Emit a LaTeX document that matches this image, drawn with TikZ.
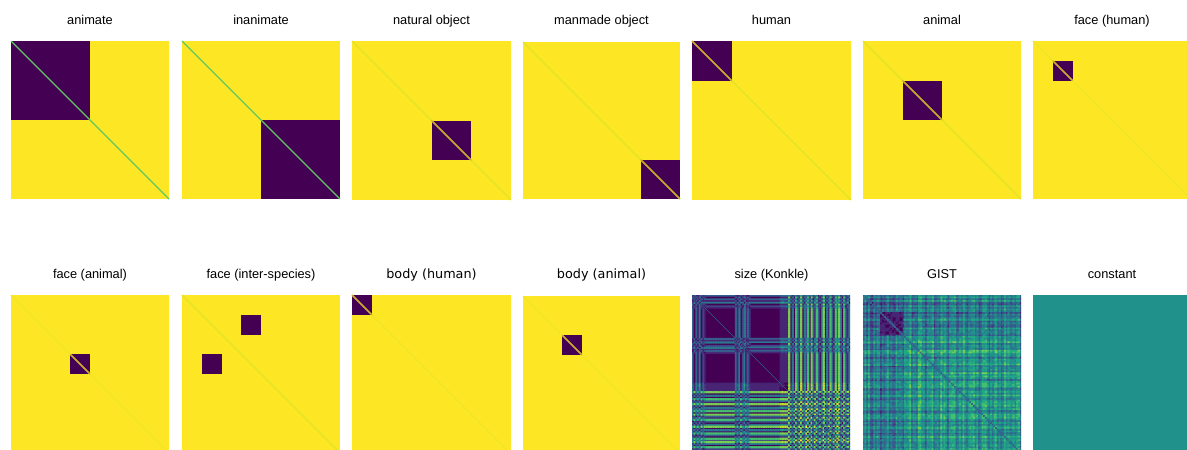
\documentclass[tikz,border=0pt]{standalone}
\usepackage{fontspec}
\setmainfont{Liberation Sans}
\newfontfamily\dvs{DejaVu Sans}
\definecolor{vir0}{HTML}{440154}
\definecolor{vir1}{HTML}{482475}
\definecolor{vir2}{HTML}{414487}
\definecolor{vir3}{HTML}{355F8D}
\definecolor{vir4}{HTML}{2A788E}
\definecolor{vir5}{HTML}{21918C}
\definecolor{vir6}{HTML}{22A884}
\definecolor{vir7}{HTML}{44BF70}
\definecolor{vir8}{HTML}{7AD151}
\definecolor{vir9}{HTML}{BDDF26}
\definecolor{vir10}{HTML}{FDE725}
\definecolor{vgreen}{HTML}{5EC962}
\tikzset{
  ttl/.style={anchor=base, font=\fontsize{12.8}{15}\selectfont},
  ttlb/.style={anchor=base, font=\dvs\fontsize{12.8}{15}\selectfont},
  diagG/.style={line width=1.3pt, draw=vgreen},
  diagF/.style={line width=1.1pt, draw=vir10!55!vir9},
  diagH/.style={line width=1.1pt, draw=vir10!80!vir9},
  diagK/.style={line width=1.1pt, draw=vir10!72!vir0},
}
\newcommand\rdm[4]{%
  \begin{scope}[shift={(#1,#2)}, x=#3pt, y=-#3pt]
    \fill[vir10] (0,0) rectangle (1,1);
    #4
  \end{scope}}
\newcommand\blk[4]{\fill[vir0] (#1,#2) rectangle (#3,#4);}
\def\slist{{0.45,0.2,0.5,0.3,0.6,0.2,0.35,0.25,%
0.2,0.2,0.2,0.2,0.2,0.2,0.2,0.2,0.2,0.2,0.2,0.2,0.2,0.2,0.2,0.2,0.2,%
0.5,0.3,0.55,0.2,0.35,0.6,0.3,0.45,0.25,%
0.2,0.2,0.2,0.2,0.2,0.2,0.2,0.2,0.2,0.2,0.2,0.2,0.2,0.2,0.2,0.2,0.2,%
0.1,0.05,0.1,0.08,0.1,%
0.95,0.2,0.55,0.2,0.9,0.5,0.15,1.0,0.2,0.6,0.0,0.85,0.2,0.95,0.5,0.05,0.9,0.45,0.2,0.55,1.0,0.2,0.6,0.1,0.9,0.5,0.2,0.85,0.0,0.95,0.55,0.2,0.9,0.35,0.05,0.6}}
% colour-bucketed path accumulation (basic layer, compact 're' output)
\newcommand\resetbuckets{\foreach \q in {0,...,10}{\expandafter\gdef\csname pk\q\endcsname{}}}
\newcommand\addcell[3]{% colour index, col, row
  \expandafter\let\expandafter\tmpb\csname pk#1\endcsname
  \expandafter\xdef\csname pk#1\endcsname{\unexpanded\expandafter{\tmpb}\noexpand\pgfpathrectangle{\noexpand\pgfpointxy{#2}{#3}}{\noexpand\pgfpointxy{1.3}{1.3}}}}
\newcommand\flushbuckets{\foreach \q in {0,...,10}{%
  \expandafter\ifx\csname pk\q\endcsname\empty\else
  \begin{pgfscope}\pgfsetfillcolor{vir\q}\csname pk\q\endcsname\pgfusepath{fill}\end{pgfscope}\fi}}
\begin{document}
\begin{tikzpicture}[x=1pt, y=-1pt]
\useasboundingbox (0,0) rectangle (1187,450);
% ---- titles top row
\node[ttl] (t1) at (90,24.5) {animate};
\node[ttl] (t2) at (261,24.5) {inanimate};
\node[ttl] (t3) at (431.5,24.5) {natural object};
\node[ttl] (t4) at (601.5,24.5) {manmade object};
\node[ttl] (t5) at (771.5,24.5) {human};
\node[ttl] (t6) at (942,24.5) {animal};
\node[ttl] (t7) at (1112,24.5) {face (human)};
% ---- titles bottom row
\node[ttl] (b1) at (90,278.5) {face (animal)};
\node[ttl] (b2) at (261,278.5) {face (inter-species)};
\node[ttlb] (b3) at (431.5,278.5) {body (human)};
\node[ttlb] (b4) at (601.5,278.5) {body (animal)};
\node[ttl] (b5) at (771.5,278.5) {size (Konkle)};
\node[ttl] (b6) at (942,278.5) {GIST};
\node[ttl] (b7) at (1112,278.5) {constant};
% ---- top row panels
\rdm{11}{41}{158}{\blk{0}{0}{.5}{.5}\draw[diagG] (0,0)--(1,1);}
\rdm{182}{41}{158}{\blk{.5}{.5}{1}{1}\draw[diagG] (0,0)--(1,1);}
\rdm{352}{41}{159}{\blk{.5}{.5}{.75}{.75}\draw[diagF] (0,0)--(1,1);\draw[diagK] (.5,.5)--(.75,.75);}
\rdm{523}{42}{157}{\blk{.75}{.75}{1}{1}\draw[diagF] (0,0)--(1,1);\draw[diagK] (.75,.75)--(1,1);}
\rdm{692}{41}{159}{\blk{0}{0}{.25}{.25}\draw[diagF] (0,0)--(1,1);\draw[diagK] (0,0)--(.25,.25);}
\rdm{863}{41}{158}{\blk{.25}{.25}{.5}{.5}\draw[diagF] (0,0)--(1,1);\draw[diagK] (.25,.25)--(.5,.5);}
\rdm{1033}{41}{158}{\blk{.125}{.125}{.25}{.25}\draw[diagH] (0,0)--(1,1);\draw[diagK] (.125,.125)--(.25,.25);}
% ---- bottom row panels
\rdm{11}{295}{158}{\blk{.375}{.375}{.5}{.5}\draw[diagH] (0,0)--(1,1);\draw[diagK] (.375,.375)--(.5,.5);}
\rdm{182}{295}{158}{\blk{.375}{.125}{.5}{.25}\blk{.125}{.375}{.25}{.5}\draw[diagF] (0,0)--(1,1);}
\rdm{352}{295}{159}{\blk{0}{0}{.125}{.125}\draw[diagH] (0,0)--(1,1);\draw[diagK] (0,0)--(.125,.125);}
\rdm{523}{296}{157}{\blk{.25}{.25}{.375}{.375}\draw[diagH] (0,0)--(1,1);\draw[diagK] (.25,.25)--(.375,.375);}
% size (Konkle)
\begin{scope}[shift={(692,295)}, x=1.71739pt, y=-1.71739pt]
  \clip (0,0) rectangle (92,92);
  \fill[vir0] (0,0) rectangle (92,92);
  \foreach \i in {0,...,91}{
    \resetbuckets
    \pgfmathsetmacro\si{\slist[\i]}
    \foreach \j in {\i,...,91}{
      \pgfmathsetmacro\v{abs(\si-\slist[\j])}
      \pgfmathtruncatemacro\k{round(10*\v)}
      \addcell{\k}{\j}{\i}
      \addcell{\k}{\i}{\j}
    }
    \flushbuckets}
  \draw[line width=0.7pt, draw=vir4, opacity=0.8] (0,0) -- (92,92);
\end{scope}
% GIST
\pgfmathsetseed{12}
\begin{scope}[shift={(863,295)}, x=1.71739pt, y=-1.71739pt]
  \clip (0,0) rectangle (92,92);
  \fill[vir5] (0,0) rectangle (92,92);
  \foreach \i in {0,...,91}{
    \resetbuckets
    \pgfmathsetmacro\ai{0.1*sin(\i*137.508)+0.07*sin(\i*57.3+20)-0.1*(\i<23)+0.2*(\i==62)+0.15*(\i==47)+0.15*(\i==33)+0.12*(\i==70)+0.12*(\i==86)+0.1*(\i==3)+0.1*(\i==52)}
    \foreach \j in {\i,...,91}{
      \pgfmathsetmacro\aj{0.1*sin(\j*137.508)+0.07*sin(\j*57.3+20)-0.1*(\j<23)+0.2*(\j==62)+0.15*(\j==47)+0.15*(\j==33)+0.12*(\j==70)+0.12*(\j==86)+0.1*(\j==3)+0.1*(\j==52)}
      \pgfmathsetmacro\v{ifthenelse(\i==\j,0.3,ifthenelse(and(and(\i>9,\i<23),and(\j>9,\j<23)),0.02+0.08*rnd,0.47+\ai+\aj+0.14*(rnd-0.5)))}
      \pgfmathtruncatemacro\k{round(10*max(0,min(1,\v)))}
      \addcell{\k}{\j}{\i}
      \addcell{\k}{\i}{\j}
    }
    \flushbuckets}
\end{scope}
% constant
\fill[vir5] (1033,295) rectangle (1191,453);
\end{tikzpicture}
\end{document}
